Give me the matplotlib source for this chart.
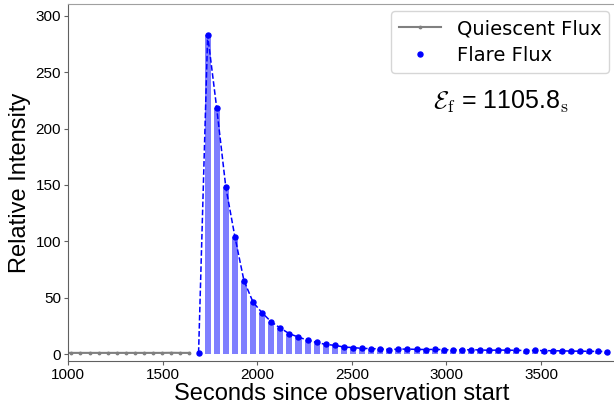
import matplotlib
matplotlib.use('Agg')
import matplotlib.pyplot as plt
import numpy as np

plt.rcParams['font.family'] = ['Liberation Sans', 'DejaVu Sans']
plt.rcParams['mathtext.fontset'] = 'cm'

# quiescent part of the light curve
quiet_t = [970, 1018, 1066, 1114, 1162, 1210, 1258, 1306, 1354, 1402,
           1450, 1498, 1546, 1594, 1642]
quiet_flux = [1.0, 1.0, 1.0, 1.0, 1.0, 1.0, 1.0, 1.0, 1.0, 1.0,
              1.0, 1.0, 1.1, 1.0, 1.0]

# flare part
flare_t = [1690, 1738, 1786, 1834, 1882, 1930, 1978, 2026, 2074, 2122,
           2170, 2218, 2266, 2314, 2362, 2410, 2458, 2506, 2554, 2602,
           2650, 2698, 2746, 2794, 2842, 2890, 2938, 2986, 3034, 3082,
           3130, 3178, 3226, 3274, 3322, 3370, 3418, 3466, 3514, 3562,
           3610, 3658, 3706, 3754, 3802, 3850]
flare_flux = [1.0, 283, 218, 148, 104, 65, 46, 36.5, 28.6, 23,
              18, 15, 12.3, 10.3, 8.5, 7.7, 6.2, 5.7, 5.0, 4.8,
              4.5, 4.0, 4.3, 4.4, 4.1, 4.0, 4.1, 3.9, 3.6, 3.7,
              3.8, 3.6, 3.3, 3.5, 3.4, 3.3, 3.1, 3.2, 3.0, 2.9,
              2.8, 2.6, 2.5, 2.4, 2.3, 2.2]

eq_duration = 1105.8

fig = plt.figure(figsize=(6.14, 4.12), dpi=100)
ax = fig.add_axes([68 / 614, 51 / 412, 548 / 614, 357 / 412])

ax.bar(flare_t[1:], flare_flux[1:], width=32, color='blue', alpha=0.5)
ax.plot(quiet_t, quiet_flux, color='gray', marker='.', markersize=3.5,
        linewidth=1.5, label='Quiescent Flux')
ax.plot(flare_t, flare_flux, color='blue', linestyle='--', linewidth=1.1)
ax.plot(flare_t, flare_flux, 'o', color='blue', markersize=3.6,
        label='Flare Flux')

ax.set_xlim(1000, 3896)
ax.set_ylim(-6.2, 310.6)
ax.set_xticks([1000, 1500, 2000, 2500, 3000, 3500])
ax.set_yticks([0, 50, 100, 150, 200, 250, 300])

ax.spines['right'].set_visible(False)
ax.spines['top'].set_color('#a0a0a0')
ax.spines['left'].set_color('#606060')
ax.spines['bottom'].set_color('#606060')
ax.tick_params(labelsize=11, length=3, color='#606060', pad=2)

ax.set_xlabel('Seconds since observation start', fontsize=17, labelpad=1)
ax.set_ylabel('Relative Intensity', fontsize=17, labelpad=3)

ax.text(0.79, 0.725, r'$\mathcal{E}_{\mathrm{f}}$ = %.1f$_{\mathrm{s}}$' % eq_duration,
        transform=ax.transAxes, ha='center', va='center', fontsize=18)

ax.legend(loc='upper right', bbox_to_anchor=(0.995, 0.99),
          prop={'family': 'DejaVu Sans', 'size': 14}, handlelength=2.2,
          borderpad=0.4, labelspacing=0.4, borderaxespad=0.2)

plt.savefig('out.png')
